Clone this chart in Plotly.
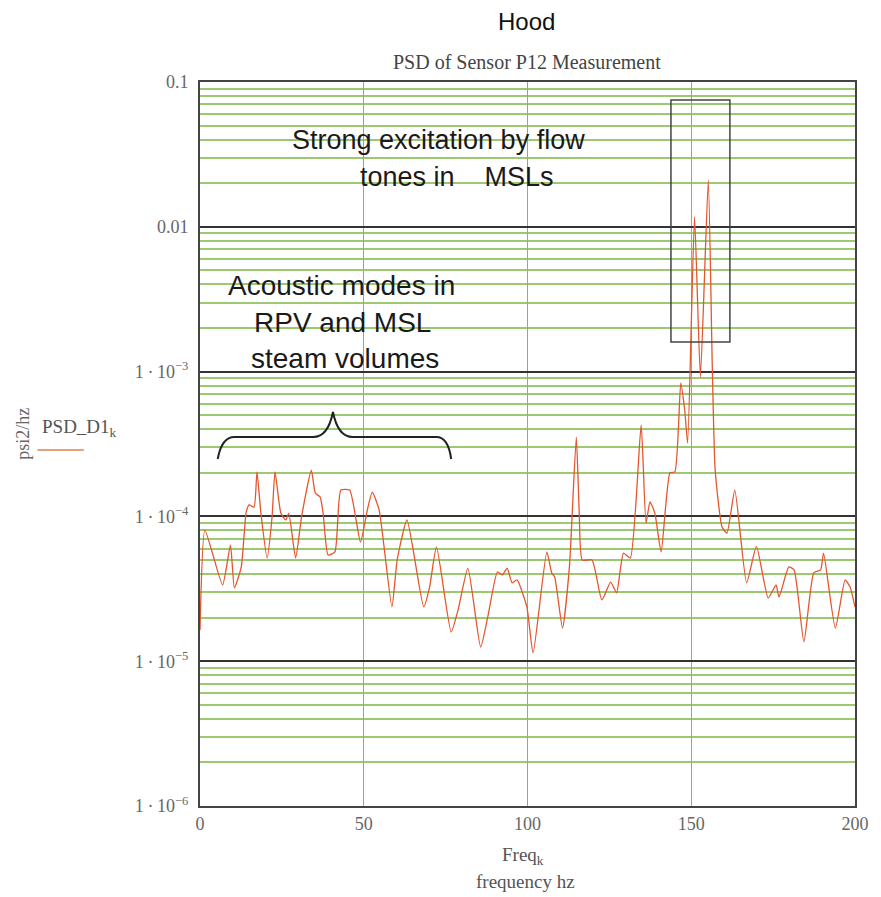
import plotly.graph_objects as go

# ---- data ----
freq_hz = [0.0, 1.5, 6.9, 9.3, 10.5, 12.6, 14.1, 15.0, 16.5, 17.4, 18.6, 20.5, 22.0, 22.9, 24.7,
           26.2, 27.1, 29.2, 31.0, 34.0, 35.2, 36.7, 37.6, 39.1, 41.2, 43.0, 45.7, 49.0, 51.1,
           52.6, 54.7, 58.6, 60.2, 63.2, 68.3, 70.1, 72.2, 76.7, 78.8, 81.8, 85.7, 88.1, 90.8,
           92.3, 93.8, 95.3, 96.8, 99.8, 101.7, 105.9, 107.4, 108.3, 110.7, 112.8, 114.9, 115.8,
           116.7, 119.7, 122.7, 125.4, 127.2, 129.3, 131.4, 134.7, 136.2, 137.4, 138.9, 140.8,
           143.5, 145.0, 146.8, 148.0, 148.9, 151.0, 152.8, 155.2, 156.4, 157.3, 159.4, 160.9,
           163.3, 166.9, 169.9, 173.5, 175.9, 176.8, 179.8, 181.4, 184.4, 187.4, 189.5, 190.4,
           194.0, 197.0, 198.5, 200.0]
psd_d1 = [1.64e-5, 8.05e-5, 3.36e-5, 6.34e-5, 3.21e-5, 4.48e-5, 1.07e-4, 1.20e-4, 1.16e-4, 2.03e-4,
          1.05e-4, 5.16e-5, 9.9e-5, 2.03e-4, 1.05e-4, 9.44e-5, 1.05e-4, 5.16e-5, 9.9e-5, 2.09e-4,
          1.45e-4, 1.36e-4, 1.05e-4, 5.41e-5, 5.68e-5, 1.52e-4, 1.52e-4, 6.65e-5, 1.11e-4, 1.47e-4,
          1.11e-4, 2.37e-5, 5.0e-5, 9.44e-5, 2.37e-5, 3.25e-5, 6.15e-5, 1.59e-5, 2.26e-5, 4.40e-5,
          1.25e-5, 2.15e-5, 4.13e-5, 3.94e-5, 4.40e-5, 3.47e-5, 3.64e-5, 2.37e-5, 1.14e-5, 5.68e-5,
          4.07e-5, 3.82e-5, 1.69e-5, 4.48e-5, 3.53e-4, 1.05e-4, 5.0e-5, 5.0e-5, 2.65e-5, 3.52e-5,
          2.96e-5, 5.58e-5, 5.16e-5, 4.28e-4, 9.0e-5, 1.26e-4, 1.05e-4, 5.68e-5, 2.0e-4, 2.03e-4,
          8.34e-4, 5.43e-4, 3.21e-4, 1.17e-2, 9.18e-4, 2.10e-2, 1.15e-3, 2.09e-4, 8.45e-5, 7.67e-5,
          1.52e-4, 3.47e-5, 6.2e-5, 2.73e-5, 3.36e-5, 2.77e-5, 4.48e-5, 4.27e-5, 1.36e-5, 4.07e-5,
          4.27e-5, 5.58e-5, 1.69e-5, 3.64e-5, 3.25e-5, 2.37e-5]

x_ticks = [0, 50, 100, 150, 200]
y_ticks = [0.1, 0.01, 1e-3, 1e-4, 1e-5, 1e-6]
y_tick_labels = ["0.1", "0.01", "1\u2009·\u200910<sup>−3</sup>", "1\u2009·\u200910<sup>−4</sup>",
                 "1\u2009·\u200910<sup>−5</sup>", "1\u2009·\u200910<sup>−6</sup>"]

SERIF = "Liberation Serif, Times New Roman, serif"
SANS = "Liberation Sans, Arial, sans-serif"
GREEN = "#9cc872"
VGREEN = "#86b85c"
DARK = "#333333"

minor_vals = [k * 10.0 ** e for e in range(-6, -1) for k in range(2, 10)]

fig = go.Figure()
fig.add_trace(go.Scatter(
    x=freq_hz, y=psd_d1, mode="lines",
    line=dict(color="#e4572e", width=1.3, shape="spline", smoothing=0.5),
    showlegend=False, hoverinfo="x+y",
))

fig.update_layout(
    width=881, height=897,
    margin=dict(l=200, r=16, t=82, b=91),
    paper_bgcolor="white", plot_bgcolor="white",
    showlegend=False,
)
fig.update_xaxes(
    range=[0, 200], tickvals=x_ticks, ticktext=[str(v) for v in x_ticks],
    showgrid=True, gridcolor=VGREEN, gridwidth=1,
    showline=True, linecolor="#444", linewidth=2, mirror=True,
    ticks="", zeroline=False,
    tickfont=dict(family=SERIF, size=18, color="#666"),
)
fig.update_yaxes(
    type="log", range=[-6, -1], tickvals=y_ticks, ticktext=y_tick_labels,
    showgrid=True, gridcolor=DARK, gridwidth=2,
    showline=True, linecolor="#444", linewidth=2, mirror=True,
    ticks="", zeroline=False, ticklabelstandoff=6,
    tickfont=dict(family=SERIF, size=18, color="#666"),
    minor=dict(tickvals=minor_vals, showgrid=True, gridcolor=GREEN, gridwidth=1.6, ticks=""),
)

def px_x(px):
    return (px - 200) / 665.0

def px_y(py):
    return (806 - py) / 724.0

# white cover boxes behind the text
white_boxes = [
    (263, 673, 100, 225),
    (200, 673, 188, 225),
    (207, 512, 250, 386),
    (512, 865, 342, 371),
]
for x0, x1, y0, y1 in white_boxes:
    fig.add_shape(type="rect", xref="paper", yref="paper",
                  x0=px_x(x0), x1=px_x(x1), y0=px_y(y1), y1=px_y(y0),
                  fillcolor="white", line=dict(width=0), layer="between")

# rectangle around the peaks
fig.add_shape(type="rect", xref="x", yref="paper", x0=143.8, x1=161.8,
              y0=px_y(342), y1=px_y(100), line=dict(color="#444", width=1.5),
              fillcolor="rgba(0,0,0,0)", layer="above")

# curly brace
bx = [px_x(v) for v in (218, 222, 235, 315, 330, 335, 340, 355, 440, 452, 455)]
by = [px_y(v) for v in (459, 437, 412)]
brace = (f"M {bx[0]} {by[0]} Q {bx[1]} {by[1]} {bx[2]} {by[1]} "
         f"L {bx[3]} {by[1]} Q {bx[4]} {by[1]} {bx[5]} {by[2]} "
         f"Q {bx[6]} {by[1]} {bx[7]} {by[1]} L {bx[8]} {by[1]} "
         f"Q {bx[9]} {by[1]} {bx[10]} {by[0]}")
fig.add_shape(type="path", xref="paper", yref="paper", path=brace,
              line=dict(color="#222", width=2), layer="above")

# legend sample line
fig.add_shape(type="line", xref="paper", yref="paper",
              x0=px_x(35), x1=px_x(82), y0=px_y(450), y1=px_y(450),
              line=dict(color="#e9a07a", width=2))

ann = []
ann.append(dict(text="Hood", x=px_x(531), y=px_y(21), font=dict(family=SANS, size=24, color="#111")))
ann.append(dict(text="PSD of Sensor P12 Measurement", x=px_x(532), y=px_y(62),
                font=dict(family=SERIF, size=20, color="#444")))
ann.append(dict(text="Strong excitation by flow", x=px_x(442), y=px_y(140),
                font=dict(family=SANS, size=27, color="#1a1a1a")))
ann.append(dict(text="tones in    MSLs", x=px_x(461), y=px_y(177),
                font=dict(family=SANS, size=27, color="#1a1a1a")))
ann.append(dict(text="Acoustic modes in", x=px_x(344), y=px_y(285),
                font=dict(family=SANS, size=28, color="#1a1a1a")))
ann.append(dict(text="RPV and MSL", x=px_x(345), y=px_y(322),
                font=dict(family=SANS, size=28, color="#1a1a1a")))
ann.append(dict(text="steam volumes", x=px_x(347), y=px_y(358),
                font=dict(family=SANS, size=28, color="#1a1a1a")))
ann.append(dict(text="Freq<sub>k</sub>", x=px_x(528), y=px_y(856),
                font=dict(family=SERIF, size=19, color="#555")))
ann.append(dict(text="frequency hz", x=px_x(530), y=px_y(881),
                font=dict(family=SERIF, size=19, color="#555")))
ann.append(dict(text="psi2/hz", x=px_x(20), y=px_y(434), textangle=-90,
                font=dict(family=SERIF, size=18, color="#666")))
ann.append(dict(text="PSD_D1<sub>k</sub>", x=px_x(38), y=px_y(428), xanchor="left",
                font=dict(family=SERIF, size=19, color="#555")))
for a in ann:
    a.setdefault("xanchor", "center")
    a.update(xref="paper", yref="paper", yanchor="middle", showarrow=False)
    fig.add_annotation(**a)

fig.write_html("out.html", config={"displayModeBar": False},
               post_script="document.body.style.margin='0px';")
